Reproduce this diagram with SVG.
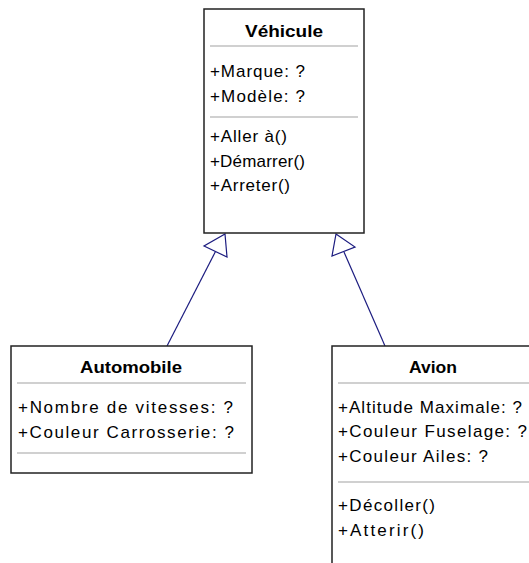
<svg xmlns="http://www.w3.org/2000/svg" width="529" height="563" viewBox="0 0 529 563">
<style>
.box{fill:#ffffff;stroke:#222222;stroke-width:1.5}
.sep{stroke:#c0c0c0;stroke-width:1.5}
.t{font-family:"Liberation Sans",Arial,sans-serif;font-size:17px;fill:#000}
.title{font-family:"Liberation Sans",Arial,sans-serif;font-size:17px;font-weight:bold;fill:#000;text-anchor:middle}
.conn{stroke:#1c1c80;stroke-width:1.2;fill:none}
.head{stroke:#1c1c80;stroke-width:1.2;fill:#ffffff}
</style>
<rect width="529" height="563" fill="#ffffff"/>
<g id="connectors">
<line class="conn" x1="167" y1="346" x2="215.5" y2="251.5"/>
<polygon class="head" points="225,234 227,257 204,246"/>
<line class="conn" x1="385" y1="346" x2="344" y2="252"/>
<polygon class="head" points="336,234 355,247 332,256"/>
</g>
<g id="vehicule">
<rect class="box" x="204" y="9" width="160" height="224"/>
<text class="title" x="284" y="37" textLength="78" lengthAdjust="spacingAndGlyphs">Véhicule</text>
<line class="sep" x1="210" y1="46" x2="358" y2="46"/>
<text class="t" x="210" y="77" textLength="95" lengthAdjust="spacing">+Marque: ?</text>
<text class="t" x="210" y="102" textLength="95" lengthAdjust="spacing">+Modèle: ?</text>
<line class="sep" x1="210" y1="117" x2="358" y2="117"/>
<text class="t" x="210" y="142" textLength="77" lengthAdjust="spacing">+Aller à()</text>
<text class="t" x="210" y="167" textLength="95" lengthAdjust="spacing">+Démarrer()</text>
<text class="t" x="210" y="191" textLength="80" lengthAdjust="spacing">+Arreter()</text>
</g>
<g id="automobile">
<rect class="box" x="11" y="346" width="241" height="127"/>
<text class="title" x="131" y="373" textLength="102" lengthAdjust="spacingAndGlyphs">Automobile</text>
<line class="sep" x1="17" y1="383" x2="246" y2="383"/>
<text class="t" x="18" y="413" textLength="215" lengthAdjust="spacing">+Nombre de vitesses: ?</text>
<text class="t" x="18" y="438" textLength="216" lengthAdjust="spacing">+Couleur Carrosserie: ?</text>
<line class="sep" x1="17" y1="453" x2="246" y2="453"/>
</g>
<g id="avion">
<rect class="box" x="332" y="346" width="210" height="230"/>
<text class="title" x="433" y="373" textLength="48" lengthAdjust="spacingAndGlyphs">Avion</text>
<line class="sep" x1="338" y1="383" x2="529" y2="383"/>
<text class="t" x="338" y="413" textLength="184" lengthAdjust="spacing">+Altitude Maximale: ?</text>
<text class="t" x="338" y="437" textLength="189" lengthAdjust="spacing">+Couleur Fuselage: ?</text>
<text class="t" x="338" y="462" textLength="150" lengthAdjust="spacing">+Couleur Ailes: ?</text>
<line class="sep" x1="338" y1="482" x2="529" y2="482"/>
<text class="t" x="338" y="511" textLength="97" lengthAdjust="spacing">+Décoller()</text>
<text class="t" x="338" y="536" textLength="86" lengthAdjust="spacing">+Atterir()</text>
</g>
</svg>
